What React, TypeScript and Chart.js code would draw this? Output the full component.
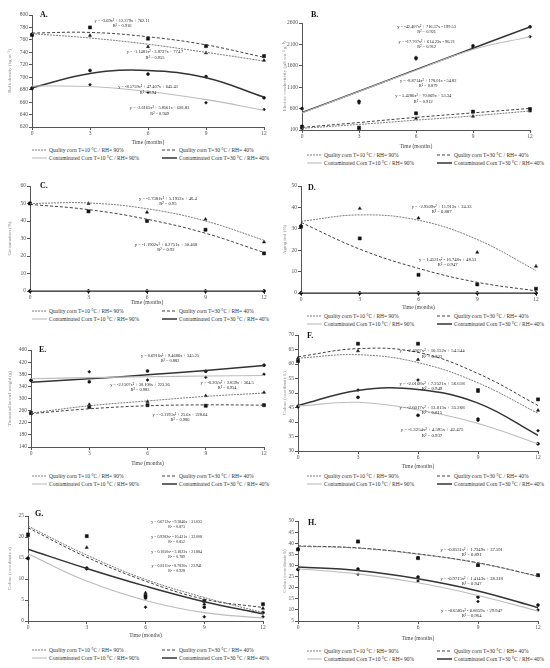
import { useEffect, useRef } from "react"
import { Chart, registerables } from "chart.js"

Chart.register(...registerables)

const serif = '"Liberation Serif", "Times New Roman", serif'

const months = [0, 3, 6, 9, 12]
const seriesLabels = [
  "Quality  corn T=10 °C / RH= 90%",
  "Quality  corn T=30 °C / RH= 40%",
  "Contaminated Corn T=10 °C / RH= 90%",
  "Contaminated Corn T=30 °C / RH= 40%",
]

// A. bulk density  (series order: Q10, Q30, C10, C30)
const bulkObs = [
  [769, 767, 749, 739, 727],
  [768, 780, 762, 750, 734],
  [683, 688, 676, 659, 648],
  [682, 711, 705, 701, 667],
]
const bulkFit = [
  [770, 763, 753, 740, 726],
  [771, 772, 765, 752, 732],
  [686, 685, 677, 664, 647],
  [683, 706, 711, 699, 668],
]
const bulkEq = [
  ["y = -3.69x² + 12.379x + 762.11", "R² = 0.916"],
  ["y = -1.1481x² - 3.8737x + 774.7", "R² = 0.955"],
  ["y = -8.5759x² + 47.407x + 645.43", "R² = 0.94"],
  ["y = -2.6165x² + 5.8561x + 681.83", "R² = 0.949"],
]
const bulkEqAt = [[4.66, 791], [6.36, 740], [6.0, 684], [6.6, 650]]

// B. electric conductivity
const condObs = [
  [140, 130, 370, 420, 540],
  [180, 155, 490, 530, 590],
  [150, 730, 1760, 2030, 2280],
  [600, 770, 1790, 2070, 2510],
]
const condFit = [
  [140, 230, 330, 430, 545],
  [160, 275, 395, 500, 605],
  [495, 1000, 1495, 1980, 2280],
  [505, 1005, 1510, 2010, 2510],
]
const condEq = [
  ["y = -42.407x² + 716.37x - 199.53", "R² = 0.921"],
  ["y = -17.707x² + 614.23x - 96.21", "R² = 0.912"],
  ["y = -8.8714x² + 178.01x - 54.82", "R² = 0.879"],
  ["y = 5.4286x² + 70.069x + 53.34", "R² = 0.912"],
]
const condEqAt = [[6.56, 2506], [6.56, 2163], [6.64, 1248], [6.38, 889]]

// C. germination
const germObs = [
  [50, 50, 45, 41, 28],
  [50, 45.5, 40, 35, 21.5],
  [0, 0, 0, 0, 0],
  [0, 0, 0, 0, 0],
]
const germFit = [
  [50, 50.3, 47, 40, 29],
  [49.5, 46.5, 41, 33, 22],
  [0, 0, 0, 0, 0],
  [0, 0, 0, 0, 0],
]
const germEq = [
  ["y = -1.7381x² + 5.1952x + 46.4", "R² = 0.95"],
  ["y = -1.1902x² + 0.2751x + 50.468", "R² = 0.92"],
]
const germEqAt = [[7.07, 52.9], [6.97, 26.6]]

// D. aging test
const agingObs = [
  [31.5, 39.5, 35, 19, 12.5],
  [31, 25.5, 8.5, 4, 2],
  [0, 0, 0, 0, 0],
  [0, 0, 0, 0, 0],
]
const agingFit = [
  [33.5, 36.5, 34, 25, 10.5],
  [33, 20.5, 11.5, 5, 1],
  [0, 0, 0, 0, 0],
  [0, 0, 0, 0, 0],
]
const agingEq = [
  ["y = -2.9509x² + 11.913x + 24.33", "R² = 0.887"],
  ["y = 1.4521x² - 16.748x + 48.53", "R² = 0.947"],
]
const agingEqAt = [[7.18, 40.3], [7.49, 15.6]]

// E. thousand kernel weight
const tkwObs = [
  [252, 280, 290, 309, 320],
  [252, 272, 278, 276, 278],
  [360, 388, 361, 370, 380],
  [360, 355, 391, 390, 410],
]
const tkwFit = [
  [252, 276, 292, 307, 318],
  [250, 266, 276, 279, 278],
  [365, 369, 372, 374, 376],
  [354, 365, 378, 392, 409],
]
const tkwEq = [
  ["y = 0.6916x² + 9.4686x + 345.25", "R² = 0.882"],
  ["y = -2.1507x² + 30.108x + 223.36", "R² = 0.983"],
  ["y = -0.202x² + 2.839x + 364.5", "R² = 0.954"],
  ["y = -3.1193x² + 25.6x + 228.64", "R² = 0.986"],
]
const tkwEqAt = [[7.16, 440], [5.61, 345], [10.1, 352.6], [7.67, 246]]

// F. colour L
const colLObs = [
  [62, 64.5, 61.5, 50.5, 44],
  [61, 67, 67, 51, 47.8],
  [45.5, 51, 54.5, 40.5, 37],
  [45.3, 48.5, 42.3, 41, 32.5],
]
const colLFit = [
  [62, 63.2, 60.5, 53.5, 43],
  [62.5, 65.3, 64, 56.7, 45.7],
  [45.5, 46.8, 44.2, 39.5, 32.5],
  [45.7, 50.9, 51.2, 46.5, 35.4],
]
const colLEq = [
  ["y = -2.4007x² + 10.152x + 54.544", "R² = 0.823"],
  ["y = -2.0108x² + 7.2521x + 56.618", "R² = 0.949"],
  ["y = -2.6017x² + 13.013x + 35.268", "R² = 0.815"],
  ["y = -1.3254x² + 4.595x + 42.475", "R² = 0.937"],
]
const colLEqAt = [[6.7, 64.6], [6.7, 53.3], [6.7, 45], [6.7, 37.2]]

// G. colour a
const colAObs = [
  [20.3, 17.5, 6.7, 4.0, 3.0],
  [20.6, 20.2, 6.0, 4.8, 4.0],
  [15, 12.4, 3.3, 1.0, 1.0],
  [14.9, 12.6, 5.5, 3.3, 2.0],
]
const colAFit = [
  [22.6, 15.7, 9.9, 5.6, 2.0],
  [22.2, 15.2, 9.5, 5.2, 3.2],
  [16, 9.5, 4.9, 2, 0.7],
  [17.1, 12.5, 8.3, 4.6, 1.7],
]
const colAEq = [
  ["y = 0.6712x² - 9.3846x + 31.033", "R² = 0.873"],
  ["y = 0.9202x² - 10.421x + 32.008", "R² = 0.852"],
  ["y = 0.1050x² - 3.1823x + 21.884", "R² = 0.789"],
  ["y = 0.8111x² - 8.7820x + 23.941", "R² = 0.928"],
]
const colAEqAt = [[7.59, 23.6], [7.59, 20], [7.59, 16.4], [7.59, 13.1]]

// H. colour b
const colBObs = [
  [37.5, 40.5, 33.5, 30, 25.5],
  [37.2, 40.8, 33.3, 30.2, 25.6],
  [28.2, 26, 23, 13.8, 10],
  [28.2, 28.4, 24.8, 15.8, 12.2],
]
const colBFit = [
  [38.6, 37.8, 35.1, 31.1, 25.1],
  [38.8, 37.9, 35.2, 31.2, 25.2],
  [28.5, 26.2, 22.2, 16.5, 9.5],
  [29.3, 27.7, 24, 18.5, 11],
]
const colBEq = [
  ["y = -0.8531x² + 1.7349x + 37.591", "R² = 0.891"],
  ["y = -0.9715x² + 1.4143x + 28.318", "R² = 0.947"],
  ["y = -0.6585x² - 0.8659x + 29.947", "R² = 0.964"],
]
const colBEqAt = [[8.68, 37.1], [8.68, 24.1], [8.68, 9.8]]

const panels = [
  { letter: "A.", yTitle: "Bulk density (kg m⁻³)", min: 620, max: 800, step: 20, obs: bulkObs, fit: bulkFit, eqs: bulkEq, eqAt: bulkEqAt },
  { letter: "B.", yTitle: "Electric conductivity (µS cm⁻¹ g⁻¹)", min: 100, max: 2600, step: 500, obs: condObs, fit: condFit, eqs: condEq, eqAt: condEqAt },
  { letter: "C.", yTitle: "Germination (%)", min: 0, max: 60, step: 10, obs: germObs, fit: germFit, eqs: germEq, eqAt: germEqAt },
  { letter: "D.", yTitle: "Aging test (%)", min: 0, max: 50, step: 10, obs: agingObs, fit: agingFit, eqs: agingEq, eqAt: agingEqAt },
  { letter: "E.", yTitle: "Thousand kernel weight (g)", min: 140, max: 460, step: 40, obs: tkwObs, fit: tkwFit, eqs: tkwEq, eqAt: tkwEqAt },
  { letter: "F.", yTitle: "Colour (coordinate L)", min: 30, max: 70, step: 5, obs: colLObs, fit: colLFit, eqs: colLEq, eqAt: colLEqAt },
  { letter: "G.", yTitle: "Colour (coordinate a)", min: 0, max: 25, step: 5, obs: colAObs, fit: colAFit, eqs: colAEq, eqAt: colAEqAt },
  { letter: "H.", yTitle: "Colour (coordinate b)", min: 5, max: 50, step: 5, obs: colBObs, fit: colBFit, eqs: colBEq, eqAt: colBEqAt },
]

// where each plot sits on the page
const frames = [
  { left: 0, plotL: 32, plotR: 264, plotT: 15, plotB: 127, titleY: 142, legendY: 150, letterAt: [8, 0], eqFont: 4.4 },
  { left: 275, plotL: 302, plotR: 530, plotT: 23, plotB: 130, titleY: 146, legendY: 155, letterAt: [9, -8], eqFont: 4.4 },
  { left: 0, plotL: 30, plotR: 264, plotT: 186, plotB: 291, titleY: 302, legendY: 311, letterAt: [10, 0], eqFont: 4.6 },
  { left: 275, plotL: 301, plotR: 536, plotT: 186, plotB: 293, titleY: 307, legendY: 316, letterAt: [7, 2], eqFont: 4.6 },
  { left: 0, plotL: 31, plotR: 264, plotT: 350, plotB: 447, titleY: 463, legendY: 476, letterAt: [8, 0], eqFont: 4.4 },
  { left: 275, plotL: 298, plotR: 538, plotT: 335, plotB: 451, titleY: 466, legendY: 476, letterAt: [9, 1], eqFont: 4.8 },
  { left: 0, plotL: 28, plotR: 263, plotT: 516, plotB: 621, titleY: 635, legendY: 650, letterAt: [7, -2], eqFont: 3.9 },
  { left: 275, plotL: 298, plotR: 538, plotT: 521, plotB: 621, titleY: 638, legendY: 651, letterAt: [10, 2], eqFont: 4.6 },
]

const lineStyles = [
  { color: "#6e6e6e", width: 0.9, dash: [2, 1] },
  { color: "#2b2b2b", width: 0.9, dash: [3, 2] },
  { color: "#bcbcbc", width: 1.1, dash: [] as number[] },
  { color: "#333333", width: 1.5, dash: [] as number[] },
]
const markers = [
  { style: "triangle", r: 1.8 },
  { style: "rect", r: 2.2 },
  { style: "rectRot", r: 1.5 },
  { style: "circle", r: 1.5 },
]

type PanelData = (typeof panels)[number]
type Frame = (typeof frames)[number]

function PanelChart({ panel, frame }: { panel: PanelData; frame: Frame }) {
  const canvasRef = useRef<HTMLCanvasElement>(null)
  const top = frame.plotT - 14
  const height = frame.titleY + 3 - top
  const width = 275

  useEffect(() => {
    if (!canvasRef.current) return
    const ctx = canvasRef.current.getContext("2d")
    if (!ctx) return

    const datasets: any[] = []
    panel.fit.forEach((vals, i) => {
      const st = lineStyles[i]
      datasets.push({
        label: seriesLabels[i],
        data: months.map((m, k) => ({ x: m, y: vals[k] })),
        borderColor: st.color,
        borderWidth: st.width,
        borderDash: st.dash,
        pointRadius: 0,
        tension: 0.4,
        fill: false,
      })
    })
    panel.obs.forEach((vals, i) => {
      const mk = markers[i]
      datasets.push({
        label: seriesLabels[i] + " obs",
        data: months.map((m, k) => ({ x: m, y: vals[k] })),
        showLine: false,
        pointStyle: mk.style,
        pointRadius: mk.r,
        backgroundColor: "#111",
        borderColor: "#111",
        borderWidth: 0.5,
        clip: false,
      })
    })

    // equations and the panel letter
    const labels = {
      id: "labels",
      afterDatasetsDraw(chart: Chart) {
        const c = chart.ctx
        const { chartArea, scales } = chart
        c.save()
        c.fillStyle = "#222"
        c.textAlign = "center"
        c.textBaseline = "middle"
        c.font = `${frame.eqFont}px ${serif}`
        panel.eqs.forEach((lines, i) => {
          const [x, y] = panel.eqAt[i]
          const px = scales.x.getPixelForValue(x)
          const py = scales.y.getPixelForValue(y)
          lines.forEach((t, j) => c.fillText(t, px, py + j * (frame.eqFont + 0.8)))
        })
        c.font = `bold 8px ${serif}`
        c.textAlign = "left"
        c.fillStyle = "#111"
        c.fillText(panel.letter, chartArea.left + frame.letterAt[0], chartArea.top + frame.letterAt[1])
        c.restore()
      },
    }

    const tickFont = { family: serif, size: 5.5 }
    const chart = new Chart(ctx, {
      type: "line",
      data: { datasets },
      options: {
        animation: false,
        responsive: false,
        maintainAspectRatio: false,
        layout: { padding: { left: 0, right: frame.left + width - frame.plotR, top: 14, bottom: 0 } },
        plugins: { legend: { display: false }, tooltip: { enabled: false } },
        scales: {
          x: {
            type: "linear",
            min: 0,
            max: 12,
            ticks: { stepSize: 3, font: tickFont, color: "#555", padding: 0 },
            grid: { drawOnChartArea: false, tickLength: 3, color: "#555" },
            border: { color: "#555" },
            title: { display: true, text: "Time (months)", font: { family: serif, size: 5.5, lineHeight: 1 }, color: "#444", padding: 0 },
            afterFit: (s: any) => {
              s.height = top + height - frame.plotB
            },
          },
          y: {
            min: panel.min,
            max: panel.max,
            ticks: { stepSize: panel.step, font: tickFont, color: "#555", padding: 1, callback: (v: any) => String(v) },
            grid: { drawOnChartArea: false, tickLength: 3, color: "#555" },
            border: { color: "#555" },
            title: { display: true, text: panel.yTitle, font: { family: serif, size: 5, lineHeight: 1 }, color: "#888", padding: { top: 7, bottom: 0 } },
            afterFit: (s: any) => {
              s.width = frame.plotL - frame.left
            },
          },
        },
      },
      plugins: [labels],
    })

    return () => chart.destroy()
  }, [panel, frame])

  const legendRow = (a: number, b: number, y: number) => (
    <>
      {[a, b].map((i, col) => (
        <div
          key={i}
          style={{
            position: "absolute",
            left: frame.left + (col === 0 ? 32 : 162),
            top: y - 4,
            height: 8,
            display: "flex",
            alignItems: "center",
            whiteSpace: "nowrap",
            font: `5.5px ${serif}`,
            color: "#333",
          }}
        >
          <svg width={15} height={4} style={{ marginRight: 2 }}>
            <line
              x1={0}
              y1={2}
              x2={15}
              y2={2}
              stroke={lineStyles[i].color}
              strokeWidth={lineStyles[i].width}
              strokeDasharray={lineStyles[i].dash.join(" ")}
            />
          </svg>
          {seriesLabels[i]}
        </div>
      ))}
    </>
  )

  return (
    <>
      <canvas
        ref={canvasRef}
        width={width}
        height={height}
        style={{ position: "absolute", left: frame.left, top, width, height }}
      />
      {legendRow(0, 1, frame.legendY)}
      {legendRow(2, 3, frame.legendY + 7.5)}
    </>
  )
}

export default function App() {
  return (
    <div style={{ position: "absolute", left: 0, top: 0, width: 550, height: 668, background: "#fff", overflow: "hidden" }}>
      {panels.map((p, i) => (
        <PanelChart key={p.letter} panel={p} frame={frames[i]} />
      ))}
    </div>
  )
}
